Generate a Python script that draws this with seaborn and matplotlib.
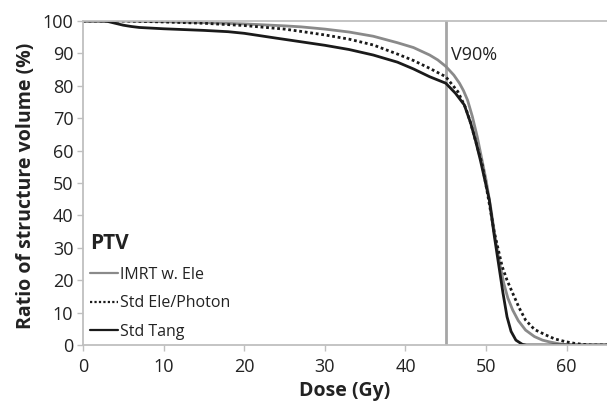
import numpy as np
import pandas as pd
import matplotlib
matplotlib.use("Agg")
import matplotlib.pyplot as plt
import seaborn as sns

# ---- data ----
imrt_dose = [0, 5, 10, 15, 20, 25, 27, 30, 33, 36, 39, 41, 43, 44, 45, 46, 46.7, 47.2, 47.7, 48.3,
             48.9, 49.5, 50, 50.6, 51.2, 51.7, 52.2, 52.7, 53.3, 54, 54.9, 56, 57, 57.8, 59, 60, 61, 65]
imrt_vol = [100, 100, 99.8, 99.5, 99.1, 98.5, 98.2, 97.5, 96.6, 95.3, 93.3, 91.8, 89.5, 88.0, 86.0, 83.3, 80.8, 78.5, 75.6, 70.5,
            64.3, 57, 50.9, 42, 32, 25, 19, 14.5, 10.8, 7.5, 4.6, 2.6, 1.5, 1.0, 0.4, 0.1, 0, 0]

ele_dose = [0, 5, 10, 15, 20, 25, 27, 30, 33, 36, 39, 41, 43, 45, 46.5, 47.5, 48.1, 48.9, 49.5, 50.3,
            51, 52, 52.6, 53.3, 54.1, 54.9, 56, 57.4, 58.5, 59.9, 61, 62, 63, 65]
ele_vol = [100, 100, 99.7, 99.3, 98.6, 97.5, 96.8, 95.7, 94.4, 92.6, 89.8, 87.8, 85.4, 82.8, 78.2, 73, 68.4, 61.2, 56, 45,
           35, 24.2, 20, 16, 11.5, 7.7, 4.8, 3.1, 1.9, 1.0, 0.5, 0.2, 0, 0]

tang_dose = [0, 2, 3, 4, 5, 6, 7, 10, 15, 18, 20, 24, 27, 30, 33, 36, 39, 41, 43, 45, 46.2, 47.3, 48.1,
             48.7, 49.3, 50.4, 51, 51.6, 52.1, 52.6, 53.1, 53.7, 54.5, 55, 65]
tang_vol = [100, 100, 99.9, 99.3, 98.7, 98.3, 98.0, 97.6, 97.1, 96.7, 96.2, 94.7, 93.6, 92.5, 91.2, 89.5, 87.3, 85.2, 82.8, 80.8, 77.7, 74.1, 68.4,
            63, 57, 44.8, 34, 24.2, 16, 8.7, 4.2, 1.5, 0.2, 0, 0]

series_names = ["IMRT w. Ele", "Std Ele/Photon", "Std Tang"]
x_ticks = [0, 10, 20, 30, 40, 50, 60]
y_ticks = [0, 10, 20, 30, 40, 50, 60, 70, 80, 90, 100]
v90_dose = 45

df = pd.concat([
    pd.DataFrame({"Dose": imrt_dose, "Volume": imrt_vol, "Plan": series_names[0]}),
    pd.DataFrame({"Dose": ele_dose, "Volume": ele_vol, "Plan": series_names[1]}),
    pd.DataFrame({"Dose": tang_dose, "Volume": tang_vol, "Plan": series_names[2]}),
], ignore_index=True)

sns.set_theme(style="white")
plt.rcParams["font.family"] = ["Open Sans", "DejaVu Sans"]

fig = plt.figure(figsize=(6.07, 4.03), dpi=100)
ax = fig.add_axes([0.1367, 0.1439, 0.8633, 0.804])

palette = {series_names[0]: "#8a8a8a", series_names[1]: "#1a1a1a", series_names[2]: "#1a1a1a"}
dashes = {series_names[0]: "", series_names[1]: (1, 1), series_names[2]: ""}
sns.lineplot(data=df, x="Dose", y="Volume", hue="Plan", style="Plan", palette=palette,
             dashes=dashes, linewidth=2, ax=ax, sort=False, estimator=None)

ax.axvline(v90_dose, color="#a6a6a6", lw=2, zorder=0)
ax.text(45.7, 89.5, "V90%", fontsize=13, color="#222222", va="center", ha="left")

ax.set_xlim(0, 65)
ax.set_ylim(0, 100)
ax.set_xticks(x_ticks)
ax.set_yticks(y_ticks)
ax.tick_params(axis="both", labelsize=13, colors="#222222", length=4, width=1, direction="out",
               bottom=True, left=True)
ax.tick_params(axis="x", pad=5)
ax.tick_params(axis="y", pad=3)
ax.tick_params(axis="both", color="#bfbfbf")
for s in ["left", "bottom", "top"]:
    ax.spines[s].set_color("#bfbfbf")
    ax.spines[s].set_linewidth(1.3)
ax.spines["right"].set_visible(False)

ax.set_xlabel("Dose (Gy)", fontsize=14, fontweight="bold", color="#222222")
ax.set_ylabel("Ratio of structure volume (%)", fontsize=14, fontweight="bold", color="#222222")
ax.xaxis.set_label_coords(0.5, -0.112)
ax.yaxis.set_label_coords(-0.09, 0.49)

leg = ax.legend(title="PTV", loc="lower left", bbox_to_anchor=(-0.008, -0.018), frameon=False,
                fontsize=11.5, handlelength=1.75, handletextpad=0.15, labelspacing=0.78,
                alignment="left", borderaxespad=0.3)
leg.get_title().set_fontweight("bold")
leg.get_title().set_fontsize(15)
leg.get_title().set_color("#222222")
for t in leg.get_texts():
    t.set_color("#222222")
for l in leg.get_lines():
    l.set_linewidth(1.6)

fig.savefig("out.png", dpi=100)
